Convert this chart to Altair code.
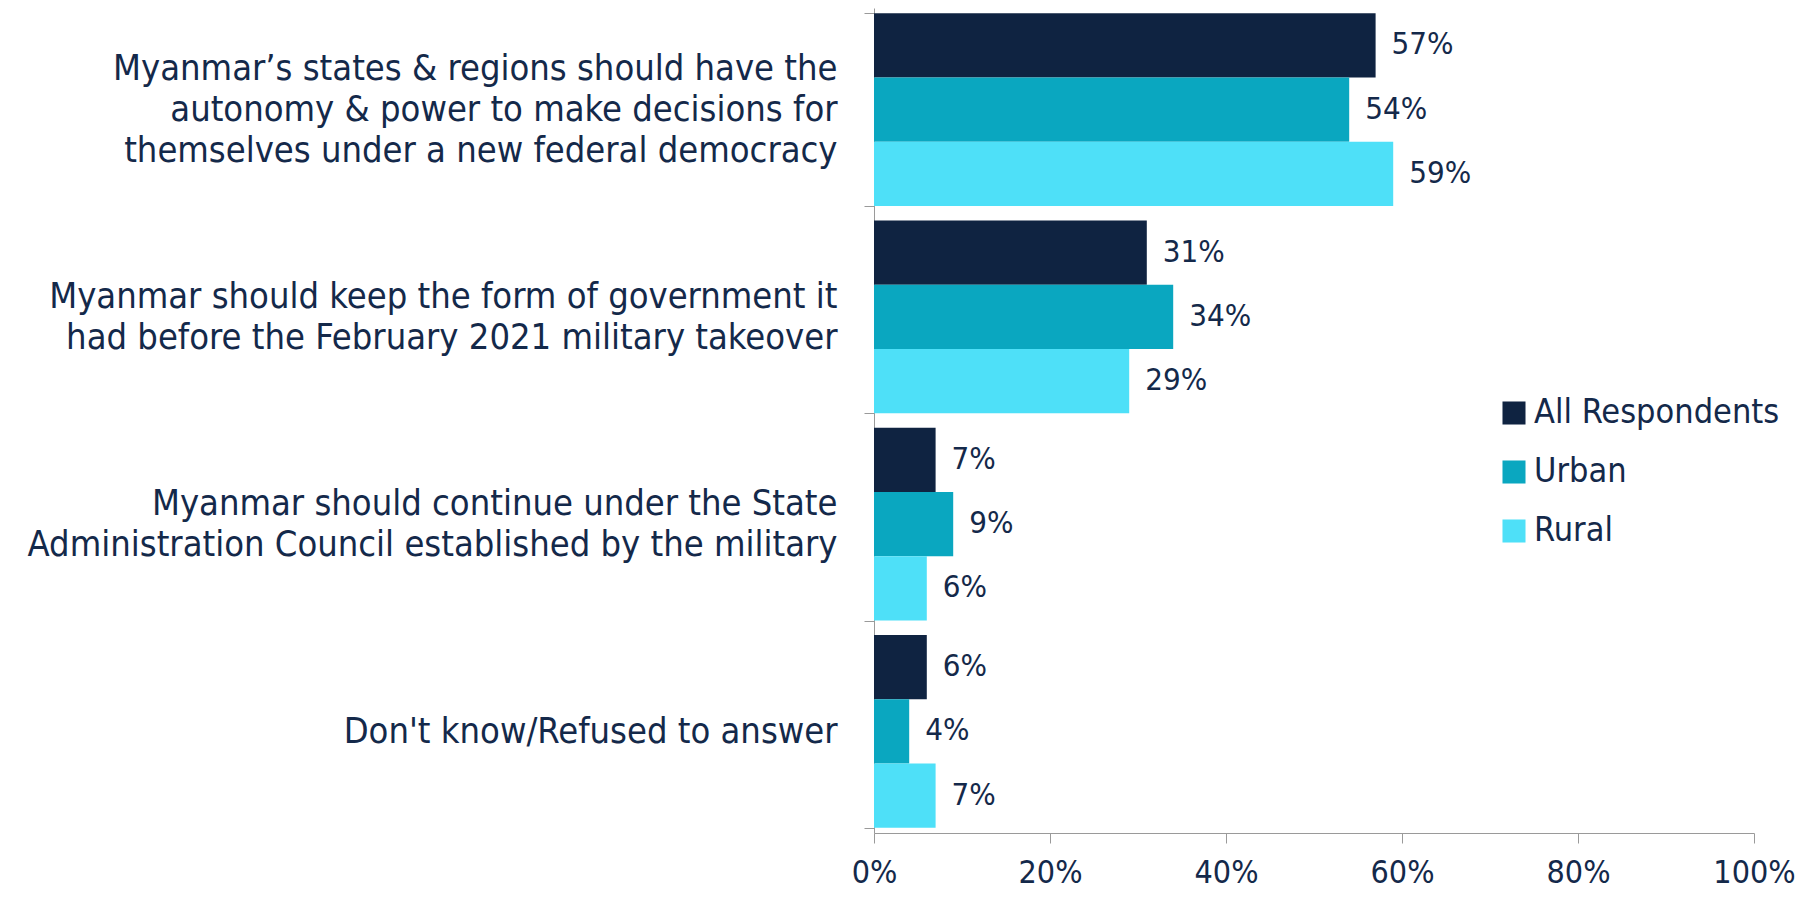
import altair as alt
import pandas as pd

categories = [
    "Myanmar’s states & regions should have the|autonomy & power to make decisions for|themselves under a new federal democracy",
    "Myanmar should keep the form of government it|had before the February 2021 military takeover",
    "Myanmar should continue under the State|Administration Council established by the military",
    "Don't know/Refused to answer",
]
series = ["All Respondents", "Urban", "Rural"]
all_vals = [57, 31, 7, 6]
urban_vals = [54, 34, 9, 4]
rural_vals = [59, 29, 6, 7]
colors = ["#0f2341", "#0aa7c0", "#4ee0f8"]
x_ticks = [0, 0.2, 0.4, 0.6, 0.8, 1.0]

TEXT = "#14294a"
AXIS = "#9a9a9a"
FONT = "DejaVu Sans Condensed"
LH = 41

rows = []
for s, vals in zip(series, [all_vals, urban_vals, rural_vals]):
    for c, v in zip(categories, vals):
        rows.append({"cat": c, "series": s, "value": v / 100, "label": f"{v}%"})
df = pd.DataFrame(rows)

label_offset = {
    "condition": [
        {"test": "length(split(datum.value, '|')) == 3", "value": -LH},
        {"test": "length(split(datum.value, '|')) == 2", "value": -LH / 2},
    ],
    "value": 0,
}

base = alt.Chart(df).encode(
    y=alt.Y(
        "cat:N",
        sort=categories,
        title=None,
        scale=alt.Scale(paddingInner=0.07, paddingOuter=0.025),
        axis=alt.Axis(
            labelExpr="split(datum.label, '|')",
            labelAlign="right",
            labelBaseline="middle",
            labelFontSize=36,
            labelLineHeight=LH,
            labelLimit=900,
            labelPadding=27,
            labelOffset=label_offset,
            labelColor=TEXT,
            labelFont=FONT,
            tickBand="extent",
            tickSize=10,
            tickColor=AXIS,
            domainColor=AXIS,
        ),
    ),
    yOffset=alt.YOffset("series:N", sort=series, scale=alt.Scale(paddingInner=0, paddingOuter=0)),
)

bars = base.mark_bar().encode(
    x=alt.X(
        "value:Q",
        title=None,
        scale=alt.Scale(domain=[0, 1]),
        axis=alt.Axis(
            values=x_ticks,
            format=".0%",
            grid=False,
            labelFlush=False,
            labelFontSize=32,
            labelColor=TEXT,
            labelFont=FONT,
            labelPadding=14,
            tickSize=10,
            tickColor=AXIS,
            domainColor=AXIS,
        ),
    ),
    color=alt.Color(
        "series:N",
        sort=series,
        scale=alt.Scale(domain=series, range=colors),
        legend=alt.Legend(
            title=None,
            orient="none",
            legendX=623,
            legendY=388,
            labelFontSize=34,
            labelLimit=400,
            labelColor=TEXT,
            labelFont=FONT,
            symbolType="square",
            symbolSize=530,
            symbolStrokeWidth=0,
            rowPadding=25,
            labelOffset=3,
        ),
    ),
)

text = base.mark_text(
    align="left", baseline="middle", dx=16, fontSize=31, color=TEXT, font=FONT
).encode(x=alt.X("value:Q"), text="label:N")

chart = (
    alt.layer(bars, text)
    .properties(
        width=880,
        height=825,
        autosize=alt.AutoSizeParams(type="none"),
        padding={"left": 866, "top": 0, "right": 44, "bottom": 62},
    )
    .configure_view(stroke=None)
)

chart.save("out.html", embed_options={"renderer": "svg", "actions": False})
